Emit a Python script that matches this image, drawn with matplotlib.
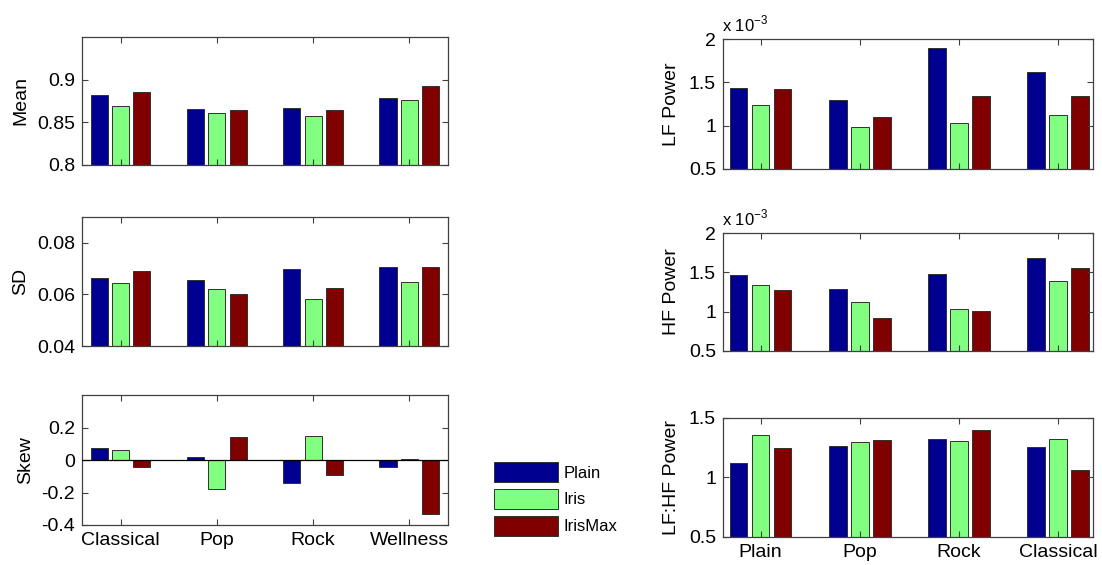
import matplotlib
matplotlib.use("Agg")
import matplotlib.pyplot as plt
import numpy as np

plt.rcParams['font.family'] = ['Liberation Sans', 'DejaVu Sans']
plt.rcParams['axes.unicode_minus'] = False

series = ['Plain', 'Iris', 'IrisMax']
colors = ['#000090', '#80FF80', '#800000']

genres_left = ['Classical', 'Pop', 'Rock', 'Wellness']
mean_vals = {
    'Plain':   [0.882, 0.8655, 0.867, 0.878],
    'Iris':    [0.869, 0.861, 0.857, 0.876],
    'IrisMax': [0.886, 0.864, 0.864, 0.892],
}
sd_vals = {
    'Plain':   [0.0664, 0.0655, 0.0699, 0.0706],
    'Iris':    [0.0646, 0.0622, 0.0583, 0.0650],
    'IrisMax': [0.0692, 0.0601, 0.0626, 0.0706],
}
skew_vals = {
    'Plain':   [0.074, 0.016, -0.144, -0.043],
    'Iris':    [0.062, -0.176, 0.150, 0.004],
    'IrisMax': [-0.043, 0.139, -0.092, -0.334],
}

genres_right = ['Plain', 'Pop', 'Rock', 'Classical']
lf_vals = {
    'Plain':   [1.438e-3, 1.292e-3, 1.892e-3, 1.615e-3],
    'Iris':    [1.242e-3, 0.985e-3, 1.035e-3, 1.123e-3],
    'IrisMax': [1.427e-3, 1.104e-3, 1.342e-3, 1.342e-3],
}
hf_vals = {
    'Plain':   [1.470e-3, 1.288e-3, 1.479e-3, 1.682e-3],
    'Iris':    [1.339e-3, 1.123e-3, 1.030e-3, 1.386e-3],
    'IrisMax': [1.275e-3, 0.920e-3, 1.013e-3, 1.551e-3],
}
lfhf_vals = {
    'Plain':   [1.121, 1.264, 1.326, 1.256],
    'Iris':    [1.357, 1.300, 1.309, 1.323],
    'IrisMax': [1.247, 1.317, 1.396, 1.059],
}

fig = plt.figure(figsize=(11.02, 5.65), dpi=100)

FS = 14
spine_c = '#404040'

def draw(rect, data, ylabel, ylim, yticks, yticklabels, xlabels, xlim, scale=1.0,
         label_x=-0.17, zero_line=False, exp_label=False):
    ax = fig.add_axes(rect)
    x = np.arange(1, 5)
    offs = [-2/9, 0, 2/9]
    w = 0.178
    bars = []
    for s, o, c in zip(series, offs, colors):
        vals = np.array(data[s]) / scale
        b = ax.bar(x + o, vals, w, color=c, edgecolor='#303030', linewidth=0.7,
                   bottom=0, label=s)
        bars.append(b)
    ax.set_xlim(*xlim)
    ax.set_ylim(*ylim)
    ax.set_yticks(yticks)
    ax.set_yticklabels(yticklabels, fontsize=FS)
    ax.set_xticks(x)
    if xlabels is not None:
        ax.set_xticklabels(xlabels, fontsize=FS)
    else:
        ax.set_xticklabels([])
    ax.tick_params(direction='in', length=4, width=0.8, color=spine_c,
                   top=True, right=True, pad=5)
    for sp in ax.spines.values():
        sp.set_color(spine_c)
        sp.set_linewidth(0.9)
    ax.set_ylabel(ylabel, fontsize=FS)
    ax.yaxis.set_label_coords(label_x, 0.5)
    if zero_line:
        ax.axhline(0, color='black', linewidth=0.9, zorder=3)
    if exp_label:
        ax.text(-0.002, 1.035, r'x 10$^{\mathregular{-3}}$', transform=ax.transAxes,
                fontsize=12, ha='left', va='bottom')
    return ax, bars

L, W = 0.0744, 0.3321
ax1, bars = draw([L, 0.708, W, 0.2265], mean_vals, 'Mean', (0.8, 0.95),
                 [0.8, 0.85, 0.9], ['0.8', '0.85', '0.9'], None, (0.6, 4.4),
                 label_x=-0.145)
draw([L, 0.3876, W, 0.228], sd_vals, 'SD', (0.04, 0.09),
     [0.04, 0.06, 0.08], ['0.04', '0.06', '0.08'], None, (0.6, 4.4),
     label_x=-0.145)
draw([L, 0.0708, W, 0.230], skew_vals, 'Skew', (-0.4, 0.4),
     [-0.4, -0.2, 0, 0.2], ['-0.4', '-0.2', '0', '0.2'], genres_left, (0.6, 4.4),
     zero_line=True, label_x=-0.132)

R, RW = 0.656, 0.3358
draw([R, 0.7009, RW, 0.230], lf_vals, 'LF Power', (0.5, 2.0),
     [0.5, 1, 1.5, 2], ['0.5', '1', '1.5', '2'], None, (0.62, 4.35),
     scale=1e-3, label_x=-0.115, exp_label=True)
draw([R, 0.3788, RW, 0.2088], hf_vals, 'HF Power', (0.5, 2.0),
     [0.5, 1, 1.5, 2], ['0.5', '1', '1.5', '2'], None, (0.62, 4.35),
     scale=1e-3, label_x=-0.115, exp_label=True)
draw([R, 0.0496, RW, 0.2106], lfhf_vals, 'LF:HF Power', (0.5, 1.5),
     [0.5, 1, 1.5], ['0.5', '1', '1.5'], genres_right, (0.62, 4.35),
     label_x=-0.115)

fig.legend(handles=bars, labels=series, loc='upper left',
           bbox_to_anchor=(494/1102, 1 - 462/565), frameon=False,
           fontsize=12, handlelength=3.84, handleheight=1.47,
           handletextpad=0.32, labelspacing=0.41, borderpad=0, borderaxespad=0)

fig.savefig('out.png', dpi=100)
